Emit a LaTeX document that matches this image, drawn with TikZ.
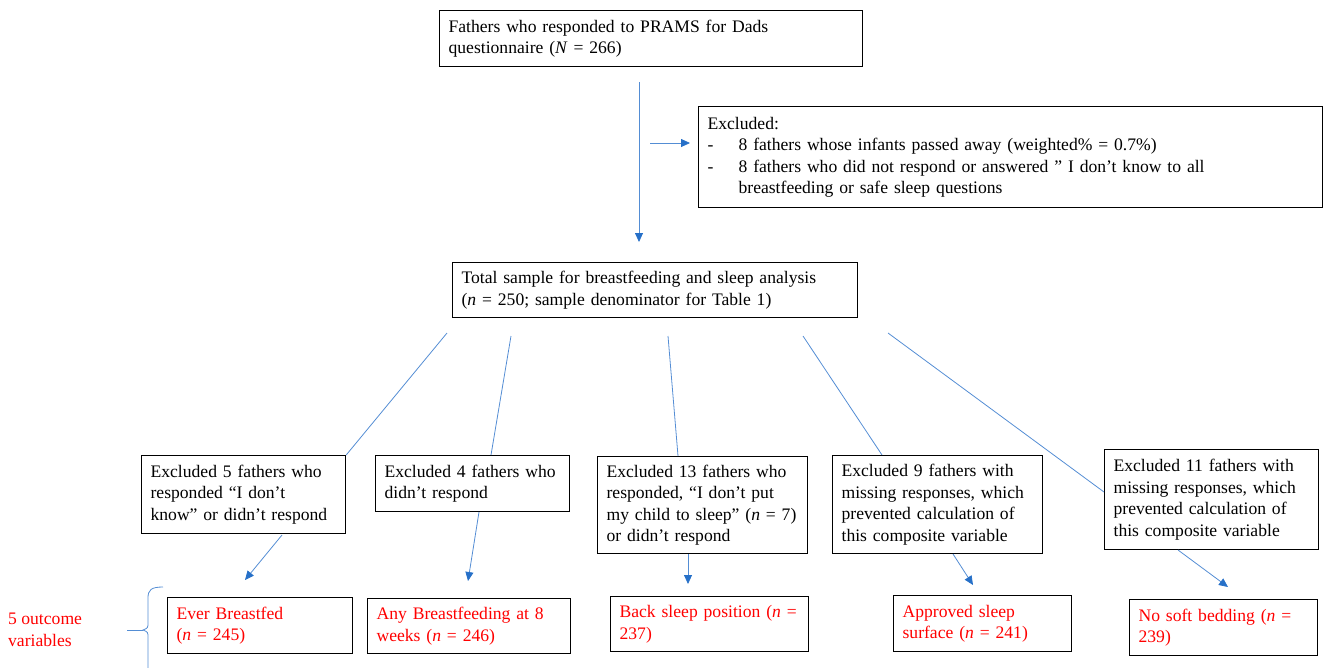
\documentclass[tikz,border=0pt]{standalone}
\usepackage{fontspec}
\setmainfont{Liberation Serif}
\usepackage{tikz}
\usetikzlibrary{arrows.meta}
\definecolor{LinkBlue}{RGB}{84,141,212}
\definecolor{TipBlue}{RGB}{38,112,200}

\begin{document}
\begin{tikzpicture}[x=1pt, y=1pt]
  \tikzset{BoxStyle/.style = {shape        = rectangle,
                              draw         = black,
                              line width   = 1.2pt,
                              anchor       = north west,
                              align        = left,
                              inner xsep   = 9pt,
                              inner ysep   = 0pt,
                              font         = \fontsize{17.6}{21.5}\selectfont}}
  \tikzset{OutStyle/.style = {BoxStyle, text = red}}
  \tikzset{boxsize/.style 2 args = {text width = #1, minimum height = #2}}
  \tikzset{LinkStyle/.style = {draw = LinkBlue, line width = 0.8pt}}
  \tikzset{ArrowStyle/.style = {LinkStyle, -{Triangle[length=9pt, width=8pt, color=TipBlue, fill=TipBlue]}}}
  \useasboundingbox (0,0) rectangle (1324,-667);
	%%% HAUT %%%
	\node[BoxStyle, boxsize={405pt}{56pt}](prams) at (439,-10)
	  {Fathers who responded to PRAMS for Dads\\questionnaire (\textit{N} = 266)};
	\node[BoxStyle, boxsize={606pt}{101pt}](excl) at (698,-106)
	  {Excluded:\\
	   \makebox[31pt][l]{-}8 fathers whose infants passed away (weighted\% = 0.7\%)\\
	   \makebox[31pt][l]{-}8 fathers who did not respond or answered ” I don’t know to all\\
	   \hspace*{31pt}breastfeeding or safe sleep questions};
	\node[BoxStyle, boxsize={387pt}{55pt}](total) at (452,-262)
	  {Total sample for breastfeeding and sleep analysis\\(\textit{n} = 250; sample denominator for Table 1)};
	%
	\coordinate (d1) at (639,-82);
	\coordinate (d2) at (639,-242);
	\coordinate (s1) at (650,-143);
	\coordinate (s2) at (690,-143);
	\draw[ArrowStyle](d1) to (d2);
	\draw[ArrowStyle](s1) to (s2);
	%%% EXCLUSIONS %%%
	\node[BoxStyle, boxsize={186pt}{78pt}](exA) at (141,-455)
	  {Excluded 5 fathers who\\responded “I don’t\\know” or didn’t respond};
	\node[BoxStyle, boxsize={176pt}{56pt}](exB) at (375,-455)
	  {Excluded 4 fathers who\\didn’t respond};
	\node[BoxStyle, boxsize={192pt}{97pt}](exC) at (597,-456)
	  {Excluded 13 fathers who\\responded, “I don’t put\\my child to sleep” (\textit{n} = 7)\\or didn’t respond};
	\node[BoxStyle, boxsize={192pt}{98pt}](exD) at (832,-455)
	  {Excluded 9 fathers with\\missing responses, which\\prevented calculation of\\this composite variable};
	\node[BoxStyle, boxsize={196pt}{100pt}](exE) at (1104,-449)
	  {Excluded 11 fathers with\\missing responses, which\\prevented calculation of\\this composite variable};
	%
	\coordinate (tA) at (447,-333);
	\coordinate (tB) at (511,-336);
	\coordinate (tC) at (668,-336);
	\coordinate (tD) at (803,-336);
	\coordinate (tE) at (888,-333);
	\coordinate (hB) at (491,-455);
	\coordinate (hC) at (678,-456);
	\coordinate (hD) at (882,-455);
	\coordinate (hE) at (1104,-492);
	\draw[LinkStyle](tA) to (exA.north east);
	\draw[LinkStyle](tB) to (hB);
	\draw[LinkStyle](tC) to (hC);
	\draw[LinkStyle](tD) to (hD);
	\draw[LinkStyle](tE) to (hE);
	%%% VARIABLES %%%
	\node[OutStyle, boxsize={167pt}{56pt}](outA) at (167,-597)
	  {Ever Breastfed\\(\textit{n} = 245)};
	\node[OutStyle, boxsize={185pt}{55pt}](outB) at (367,-598)
	  {Any Breastfeeding at 8\\weeks (\textit{n} = 246)};
	\node[OutStyle, boxsize={180pt}{55pt}](outC) at (610,-596)
	  {Back sleep position (\textit{n} =\\237)};
	\node[OutStyle, boxsize={160pt}{56pt}](outD) at (893,-595)
	  {Approved sleep\\surface (\textit{n} = 241)};
	\node[OutStyle, boxsize={170pt}{56pt}](outE) at (1129,-599)
	  {No soft bedding (\textit{n} =\\239)};
	%
	\coordinate (bA) at (282,-535);
	\coordinate (bB) at (479,-512);
	\coordinate (bC) at (688,-554);
	\coordinate (bD) at (953,-554);
	\coordinate (bE) at (1178,-550);
	\coordinate (aA) at (245,-580);
	\coordinate (aB) at (468,-581);
	\coordinate (aC) at (688,-584);
	\coordinate (aD) at (973,-585);
	\coordinate (aE) at (1228,-587);
	\draw[ArrowStyle](bA) to (aA);
	\draw[ArrowStyle](bB) to (aB);
	\draw[ArrowStyle](bC) to (aC);
	\draw[ArrowStyle](bD) to (aD);
	\draw[ArrowStyle](bE) to (aE);
	%%% ACCOLADE %%%
	\node[anchor=west, align=left, inner sep=0pt, text=red, font=\fontsize{17.6}{22}\selectfont](five) at (8,-630)
	  {5 outcome\\variables};
	\draw[LinkStyle](163,-587) .. controls (151,-587) and (148,-590) .. (148,-598)
	  -- (148,-622) .. controls (148,-628) .. (143,-630) .. controls (148,-632) .. (148,-638)
	  -- (148,-672);
	\draw[LinkStyle](127,-630) to (143,-630);
\end{tikzpicture}
\end{document}
